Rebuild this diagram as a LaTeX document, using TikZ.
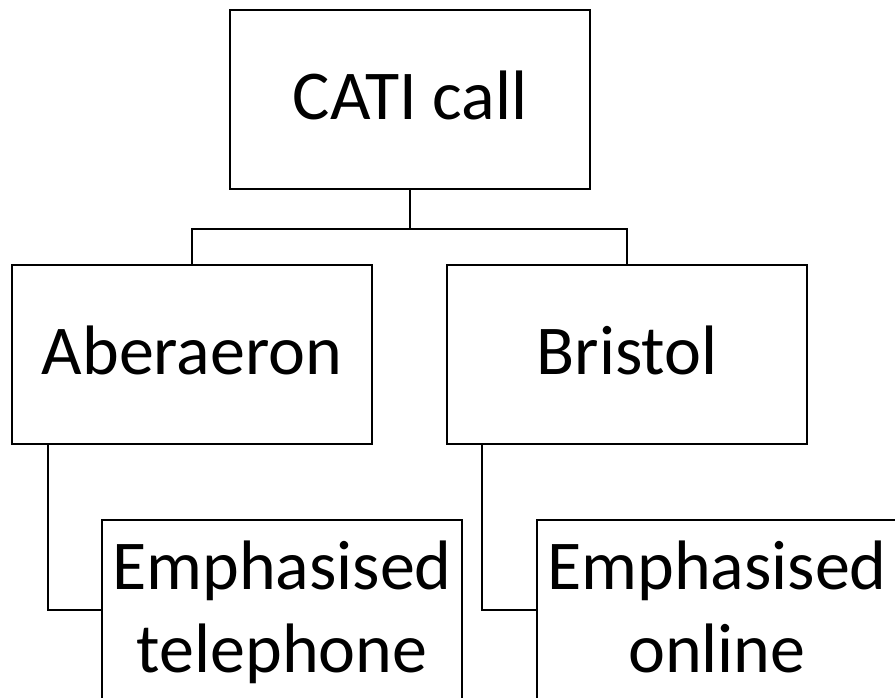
\documentclass[tikz,border=0pt]{standalone}
\usepackage{fontspec}
\setmainfont{Carlito}
\begin{document}
\begin{tikzpicture}[x=1pt,y=-1pt,
  box/.style={draw=black, line width=1.7pt, inner sep=0pt, align=center,
    minimum width=360pt, minimum height=179pt},
  bigtext/.style={font=\fontsize{70}{84}\selectfont, text height=50pt, text depth=10pt},
  smalltext/.style={font=\fontsize{70}{83}\selectfont},
  link/.style={draw=black, line width=1.7pt}]
  \useasboundingbox (0,0) rectangle (895,698);
  \clip (0,0) rectangle (895,698);
  \fill[white] (0,0) rectangle (895,698);

  % top level
  \node[box, bigtext] (cati) at (410,99.5) {CATI call};

  % sites
  \node[box, bigtext] (aber) at (192,354.5) {Aberaeron};
  \node[box, bigtext] (bris) at (627,354.5) {Bristol};

  % modes
  \node[box, smalltext, minimum height=180pt] (tel) at (282,610)
    {\rule{0pt}{54pt}Emphasised\\telephone};
  \node[box, smalltext, minimum height=180pt] (onl) at (717,610)
    {\rule{0pt}{54pt}Emphasised\\online\vphantom{p}};

  % tree connectors
  \draw[link] (cati.south) -- ++(0,39) -| (aber.north);
  \draw[link] (cati.south) -- ++(0,39) -| (bris.north);
  \draw[link] ([xshift=37pt]aber.south west) |- (tel.west);
  \draw[link] ([xshift=36pt]bris.south west) |- (onl.west);
\end{tikzpicture}
\end{document}
